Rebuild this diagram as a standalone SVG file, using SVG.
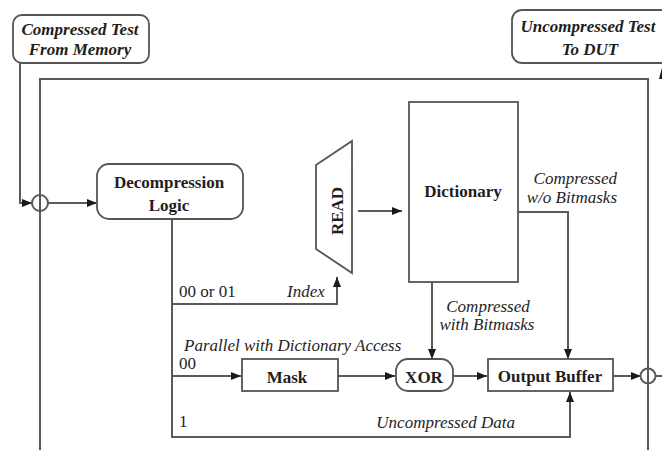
<svg xmlns="http://www.w3.org/2000/svg" width="662" height="450" viewBox="0 0 662 450">
  <defs>
    <marker id="arrow" viewBox="0 0 10 8" refX="10" refY="4" markerWidth="10" markerHeight="8" markerUnits="userSpaceOnUse" orient="auto">
      <path d="M0,0 L10,4 L0,8 Z" fill="#1a1a1a"/>
    </marker>
    <style>
      .wire { fill: none; stroke: #5a5a5a; stroke-width: 2; }
      .box { fill: #ffffff; stroke: #555555; stroke-width: 1.8; }
      .lbl { font-family: "Liberation Serif", "Times New Roman", serif; font-size: 17px; fill: #1e1e1e; }
      .b { font-weight: bold; }
      .i { font-style: italic; }
      .mid { text-anchor: middle; }
      .end { text-anchor: end; }
    </style>
  </defs>
  <rect width="662" height="450" fill="#ffffff"/>

  <!-- connectors -->
  <g id="connectors">
    <!-- outer loop frame -->
    <path class="wire" d="M40,450 V79 H648 V450"/>
    <!-- input from memory into the left junction -->
    <path class="wire" d="M20,63 V203 H32" marker-end="url(#arrow)"/>
    <path class="wire" d="M48,203 H97" marker-end="url(#arrow)"/>
    <!-- decompression logic outputs -->
    <path class="wire" d="M172,219 V437 H570 V392" marker-end="url(#arrow)"/>
    <path class="wire" d="M172,304 H337 V277" marker-end="url(#arrow)"/>
    <path class="wire" d="M172,376 H241" marker-end="url(#arrow)"/>
    <!-- read port to dictionary -->
    <path class="wire" d="M358,211 H402" marker-end="url(#arrow)"/>
    <!-- dictionary outputs -->
    <path class="wire" d="M518,212 H568 V359" marker-end="url(#arrow)"/>
    <path class="wire" d="M432,282 V359" marker-end="url(#arrow)"/>
    <!-- datapath -->
    <path class="wire" d="M338,376 H395" marker-end="url(#arrow)"/>
    <path class="wire" d="M453,376 H487" marker-end="url(#arrow)"/>
    <path class="wire" d="M613,376 H641" marker-end="url(#arrow)"/>
    <path class="wire" d="M656,376 H662"/>
    <!-- output towards the DUT -->
    <polygon points="659,79 663,64 667,79" fill="#1a1a1a"/>
  </g>

  <!-- junctions -->
  <g id="junction-in">
    <circle class="wire" cx="40" cy="203" r="8"/>
  </g>
  <g id="junction-out">
    <circle class="wire" cx="648" cy="376" r="7.5"/>
  </g>

  <!-- terminal labels -->
  <g id="src">
    <rect class="box" x="13" y="15" width="136" height="48" rx="9"/>
    <text class="lbl b i mid" x="80" y="35">Compressed Test</text>
    <text class="lbl b i mid" x="80" y="55">From Memory</text>
  </g>
  <g id="dst">
    <rect class="box" x="512" y="10" width="160" height="53" rx="10"/>
    <text class="lbl b i mid" x="588" y="32">Uncompressed Test</text>
    <text class="lbl b i mid" x="590" y="55">To DUT</text>
  </g>

  <!-- processing blocks -->
  <g id="decomp">
    <rect class="box" x="97" y="164" width="146" height="55" rx="12"/>
    <text class="lbl b mid" x="169" y="188">Decompression</text>
    <text class="lbl b mid" x="169" y="211">Logic</text>
  </g>
  <g id="read">
    <polygon class="box" points="316,165 352,141 352,273 316,249"/>
    <text class="lbl b mid" transform="translate(343,211) rotate(-90)">READ</text>
  </g>
  <g id="dictionary">
    <rect class="box" x="409" y="102" width="109" height="180"/>
    <text class="lbl b mid" x="463" y="197">Dictionary</text>
  </g>
  <g id="mask">
    <rect class="box" x="242" y="359" width="96" height="32"/>
    <text class="lbl b mid" x="287" y="383">Mask</text>
  </g>
  <g id="xor">
    <rect class="box" x="396" y="359" width="57" height="32" rx="12"/>
    <text class="lbl b mid" x="424" y="383">XOR</text>
  </g>
  <g id="outbuf">
    <rect class="box" x="488" y="359" width="125" height="32"/>
    <text class="lbl b mid" x="550" y="382">Output Buffer</text>
  </g>

  <!-- connector labels -->
  <g id="labels">
    <text class="lbl" x="179" y="297">00 or 01</text>
    <text class="lbl i" x="287" y="297">Index</text>
    <text class="lbl i end" x="617" y="184">Compressed</text>
    <text class="lbl i end" x="617" y="203">w/o Bitmasks</text>
    <text class="lbl i mid" x="488" y="312">Compressed</text>
    <text class="lbl i mid" x="487" y="330">with Bitmasks</text>
    <text class="lbl i" x="184" y="351">Parallel with Dictionary Access</text>
    <text class="lbl" x="179" y="369">00</text>
    <text class="lbl" x="179" y="427">1</text>
    <text class="lbl i end" x="515" y="428">Uncompressed Data</text>
  </g>
</svg>
